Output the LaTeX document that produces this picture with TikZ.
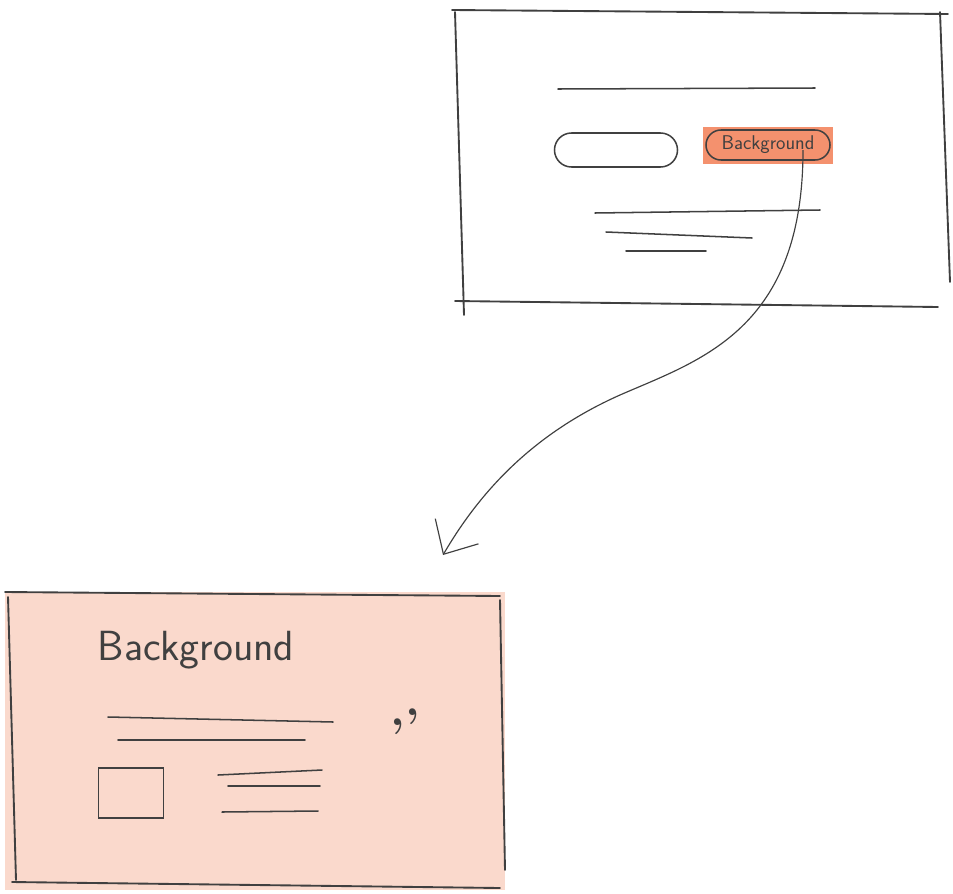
\documentclass[tikz,border=0pt]{standalone}
\usepackage{tikz}
\usepackage{xcolor}
\usetikzlibrary{arrows.meta,shapes.misc}
\definecolor{ink}{HTML}{404040}
\definecolor{hilite}{HTML}{F4916E}
\definecolor{peach}{HTML}{FAD9CC}
\tikzset{
  sketch/.style={draw=ink,line width=1.6pt,line cap=round},
  thinline/.style={draw=ink,line width=1.3pt,line cap=round},
  pillbtn/.style={draw=ink,line width=1.3pt,rounded rectangle,
                  inner sep=0pt,font=\sffamily\fontsize{17}{18}\selectfont,text=ink},
  hlbox/.style={fill=hilite,inner sep=0pt,minimum width=3.9cm,minimum height=1.11cm},
  cardbox/.style={fill=peach,inner sep=0pt,minimum width=15cm,minimum height=8.94cm},
  thumbbox/.style={draw=ink,line width=1.4pt,inner sep=0pt,
                   minimum width=1.95cm,minimum height=1.5cm},
  droparr/.style={-{Straight Barb[length=8mm,width=15mm]},draw=ink,line width=1.0pt}
}

\begin{document}
\begin{tikzpicture}[x=0.03cm,y=-0.03cm]
  \useasboundingbox (0,0) rectangle (953,893);

  % upper page
  \draw[sketch] (452,10) -- (948,14);
  \draw[sketch] (940,12) -- (950,282);
  \draw[sketch] (455,301) -- (938,307);
  \draw[sketch] (455,12) -- (464,315);
  \draw[thinline] (558,89) -- (815,88);
  \node[pillbtn,minimum width=3.69cm,minimum height=1.02cm] (emptybtn) at (616,150) {};
  \node[hlbox] (bghl) at (768,145) {};
  \node[pillbtn,minimum width=3.72cm,minimum height=0.9cm] (bgbtn) at (768,145) {Background};
  \draw[thinline] (595,213) -- (820,210);
  \draw[thinline] (606,232) -- (752,238);
  \draw[thinline] (626,251) -- (706,251);

  % lower card
  \node[cardbox] (card) at (255,741) {};
  \draw[sketch] (5,592) -- (500,596);
  \draw[sketch] (8,597) -- (16,880);
  \draw[sketch] (500,600) -- (505,870);
  \draw[sketch] (12,882) -- (500,888);
  \node[font=\sffamily\fontsize{36}{40}\selectfont,text=ink] (title) at (196,650) {Background};
  \draw[thinline] (108,717) -- (333,722);
  \draw[thinline] (118,740) -- (305,740);
  \node[font=\bfseries\fontsize{40}{40}\selectfont,text=ink] (quote) at (405,722) {,\raisebox{0.22em}{,}};
  \node[thumbbox] (thumb) at (131,793) {};
  \draw[thinline] (218,775) -- (322,770);
  \draw[thinline] (228,786) -- (320,786);
  \draw[thinline] (222,812) -- (318,811);

  % connector
  \coordinate (tip) at (443,555);
  \draw[droparr] ([xshift=1.05cm,yshift=-0.15cm]bgbtn.center)
    .. controls (803,330) and (700,360) .. (620,395)
    .. controls (530,435) and (478,495) .. (tip);
\end{tikzpicture}
\end{document}
